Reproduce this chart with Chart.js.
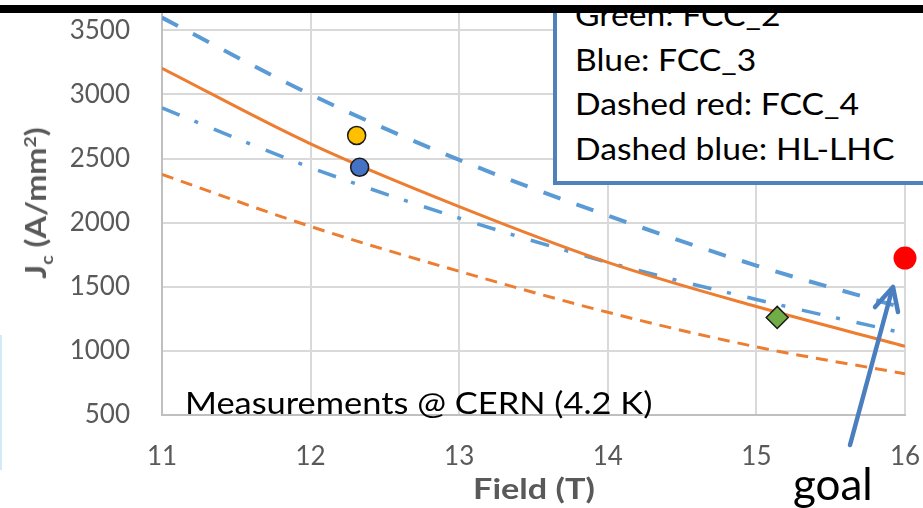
<!DOCTYPE html>
<html>
<head>
<meta charset="utf-8">
<script src="https://cdn.jsdelivr.net/npm/chart.js@4.4.1/dist/chart.umd.min.js"></script>
<style>
  body{margin:0;background:#fff;overflow:hidden}
  #wrap{position:relative;width:923px;height:508px;overflow:hidden;font-family:Lato,sans-serif}
  #grafico{position:absolute;left:0;top:0}
  .txt{position:absolute;white-space:nowrap;color:#000;line-height:1.2;transform-origin:0 0}
  #ytitle{position:absolute;left:35px;top:203px;transform:translate(-50%,-50%) rotate(-90deg) scaleX(1.16);
    font-weight:bold;font-size:28px;color:#595959;white-space:nowrap;line-height:1}
  #ytitle sub,#ytitle sup{font-size:0.6em;line-height:0}
  #xtitle{position:absolute;left:534px;top:471px;transform:translateX(-50%) scaleX(1.18);
    font-weight:bold;font-size:29px;color:#595959;white-space:nowrap;line-height:1.2}
  #medidas{left:185px;top:384px;font-size:31px;transform:scaleX(1.11)}
  #goal{left:793px;top:457px;font-size:44px}
  #cuadro{position:absolute;left:553px;top:-30px;width:420px;height:215px;box-sizing:border-box;
    border:4px solid #4f81bd;background:#fff}
  #leyenda{position:absolute;left:575px;top:-8px;font-size:31px;line-height:44.5px;color:#000;white-space:nowrap;
    transform:scaleX(1.086);transform-origin:0 0}
  #flecha{position:absolute;left:0;top:0}
  #tapa{position:absolute;left:0;top:0;width:923px;height:5px;background:#fff}
  #barra{position:absolute;left:0;top:5px;width:923px;height:8px;background:#000}
  #borde{position:absolute;left:0;top:335px;width:2px;height:135px;background:#d3ebf5}
</style>
</head>
<body>
<div id="wrap">
  <canvas id="grafico" width="923" height="508"></canvas>
  <div id="ytitle">J<sub>c</sub> (A/mm<sup>2</sup>)</div>
  <div id="xtitle">Field (T)</div>
  <div id="medidas" class="txt">Measurements @ CERN (4.2 K)</div>
  <div id="cuadro"></div>
  <div id="leyenda">
    <div>Green: FCC_2</div>
    <div>Blue: FCC_3</div>
    <div>Dashed red: FCC_4</div>
    <div>Dashed blue: HL-LHC</div>
  </div>
  <svg id="flecha" width="923" height="508">
    <line x1="850" y1="445" x2="892" y2="290" stroke="#4a7ebf" stroke-width="4.5" stroke-linecap="round"/>
    <polyline points="875,307 893,287 898,312" fill="none" stroke="#4a7ebf" stroke-width="4.5"
      stroke-linecap="round" stroke-linejoin="round"/>
  </svg>
  <div id="goal" class="txt">goal</div>
  <div id="tapa"></div>
  <div id="barra"></div>
  <div id="borde"></div>
</div>
<script>
//Datos
const campo = [11, 12, 13, 14, 15, 16]
const jcNaranja = [3205, 2615, 2125, 1690, 1345, 1035]
const jcNaranjaDash = [2376, 1970, 1620, 1300, 1030, 820]
const jcAzulPuntoRaya = [2895, 2430, 2035, 1690, 1400, 1135]
const jcHLLHC = [3600, 3000, 2490, 2055, 1665, 1330]

//Mediciones (campo, Jc)
const medAmarillo = [12.31, 2680]
const medAzul = [12.33, 2432]
const medVerde = [15.14, 1260]
const metaGoal = [16, 1723]

const xTicks = [11, 12, 13, 14, 15, 16]
const yTicks = [500, 1000, 1500, 2000, 2500, 3000, 3500]

const toXY = (xs, ys) => xs.map((x, i) => ({x: x, y: ys[i]}))
const punto = (p) => [{x: p[0], y: p[1]}]

const curva = (data, color, width, dash) => ({
    data: toXY(campo, data),
    showLine: true,
    borderColor: color,
    borderWidth: width,
    borderDash: dash,
    pointRadius: 0,
    cubicInterpolationMode: 'monotone',
    fill: false
})

const marca = (p, color, style, radius, borde) => ({
    data: punto(p),
    backgroundColor: color,
    borderColor: '#1a1a1a',
    borderWidth: borde,
    pointStyle: style,
    pointRadius: radius,
    clip: false
})

const ctx = document.getElementById('grafico').getContext('2d')
new Chart(ctx, {
    type: 'scatter',
    data: {
        datasets: [
            marca(medAmarillo, '#ffc000', 'circle', 9, 1.5),
            marca(medAzul, '#4472c4', 'circle', 9, 1.5),
            marca(medVerde, '#70ad47', 'rectRot', 11, 1.5),
            marca(metaGoal, '#ff0000', 'circle', 11.5, 0),
            curva(jcNaranja, '#ed7d31', 3, []),
            curva(jcNaranjaDash, '#ed7d31', 3, [12, 8]),
            curva(jcAzulPuntoRaya, '#5b9bd5', 3.5, [19, 16, 4, 17]),
            curva(jcHLLHC, '#5b9bd5', 4, [18, 17])
        ]
    },
    options: {
        responsive: false,
        animation: false,
        layout: {padding: {top: 8.5, right: 18, left: 0, bottom: 0}},
        plugins: {legend: {display: false}, tooltip: {enabled: false}},
        scales: {
            x: {
                type: 'linear',
                min: 11,
                max: 16,
                afterBuildTicks: axis => { axis.ticks = xTicks.map(v => ({value: v})) },
                afterFit: axis => {
                    axis.height = 93.2
                    axis.paddingLeft = 0
                    axis.paddingRight = 0
                },
                grid: {color: '#d9d9d9', lineWidth: 2, drawTicks: false},
                border: {color: '#bfbfbf', width: 2},
                ticks: {color: '#595959', font: {family: 'Lato', size: 26}, padding: 26, maxRotation: 0,
                    callback: v => String(v)}
            },
            y: {
                min: 500,
                max: 3640,
                afterBuildTicks: axis => { axis.ticks = yTicks.map(v => ({value: v})) },
                afterFit: axis => {
                    axis.width = 162
                    axis.paddingTop = 0
                    axis.paddingBottom = 0
                },
                grid: {color: '#d9d9d9', lineWidth: 2, drawTicks: false},
                border: {color: '#bfbfbf', width: 2},
                ticks: {color: '#595959', font: {family: 'Lato', size: 26}, padding: 32,
                    callback: v => String(v)}
            }
        }
    }
})
</script>
</body>
</html>
